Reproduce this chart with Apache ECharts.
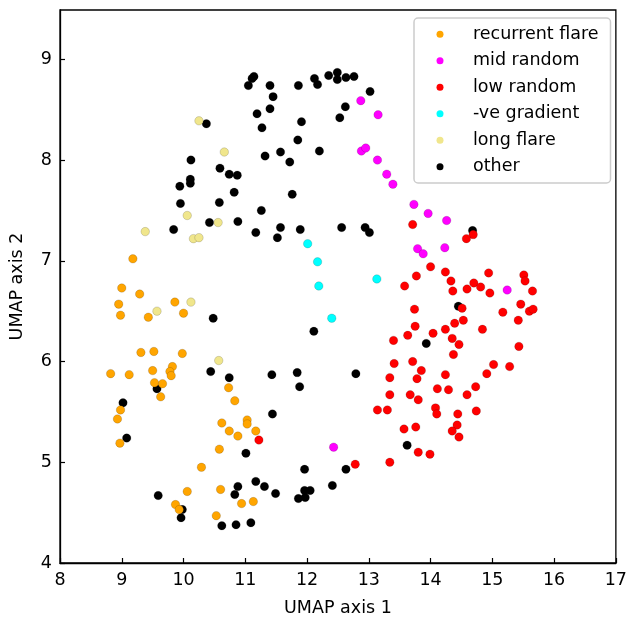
<!DOCTYPE html>
<html>
<head>
<meta charset="utf-8">
<script src="https://cdn.jsdelivr.net/npm/echarts@6/dist/echarts.min.js"></script>
<style>html,body{margin:0;padding:0;background:#fff}#c{width:630px;height:622px}</style>
</head>
<body>
<div id="c"></div>
<script>
const legendNames = ['recurrent flare','mid random','low random','-ve gradient','long flare','other'];
const xTicks = [8,9,10,11,12,13,14,15,16,17];
const yTicks = [4,5,6,7,8,9];

const recurrentFlare = [
[9.18,7.02],[9.00,6.73],[9.29,6.67],[8.95,6.57],[9.86,6.59],[8.98,6.46],[9.43,6.44],[10.00,6.48],
[9.31,6.09],[9.52,6.10],[9.98,6.08],[8.82,5.88],[9.12,5.87],[9.50,5.91],[9.82,5.95],[9.78,5.90],
[9.80,5.86],[9.53,5.79],[9.66,5.78],[10.73,5.74],[9.63,5.65],[10.83,5.61],[8.98,5.52],[8.93,5.43],
[10.62,5.39],[11.03,5.42],[11.03,5.38],[10.74,5.31],[10.88,5.26],[11.17,5.31],[8.97,5.19],[10.58,5.13],
[10.29,4.95],[10.60,4.73],[10.06,4.71],[9.87,4.58],[9.93,4.53],[10.94,4.59],[11.13,4.61],[10.53,4.47]
];
const midRandom = [
[12.87,8.59],[13.15,8.45],[12.88,8.09],[12.95,8.12],[13.14,8.00],[13.29,7.86],[13.39,7.76],[13.73,7.56],
[13.96,7.47],[14.26,7.40],[13.79,7.12],[13.88,7.07],[14.23,7.13],[15.24,6.71],[12.43,5.15]
];
const lowRandom = [
[13.71,7.36],[14.69,7.26],[14.58,7.22],[14.00,6.94],[14.24,6.89],[13.77,6.85],[13.58,6.75],[14.33,6.80],
[14.94,6.88],[14.70,6.78],[14.81,6.74],[14.59,6.72],[14.36,6.70],[14.96,6.68],[15.51,6.86],[15.53,6.80],
[15.65,6.70],[15.46,6.57],[15.60,6.50],[15.66,6.52],[15.17,6.49],[15.42,6.41],[14.51,6.53],[14.53,6.41],
[14.39,6.38],[14.24,6.32],[14.84,6.32],[14.04,6.28],[13.74,6.52],[13.75,6.35],[13.63,6.26],[13.40,6.21],
[14.35,6.23],[14.46,6.17],[14.37,6.07],[15.43,6.15],[13.41,5.98],[13.71,6.00],[13.85,5.91],[13.34,5.84],
[13.78,5.83],[15.02,5.97],[15.28,5.95],[14.91,5.88],[14.24,5.87],[13.34,5.67],[13.67,5.67],[13.80,5.62],
[13.14,5.52],[13.30,5.52],[14.11,5.73],[14.29,5.72],[14.73,5.75],[14.59,5.67],[14.08,5.54],[14.10,5.48],
[14.44,5.48],[14.74,5.51],[14.43,5.37],[14.35,5.31],[14.46,5.25],[13.57,5.33],[13.76,5.35],[13.80,5.10],
[13.99,5.08],[13.34,5.00],[12.78,4.98],[11.22,5.22]
];
const negGradient = [
[12.01,7.17],[12.17,6.99],[12.19,6.75],[13.13,6.82],[12.40,6.43]
];
const longFlare = [
[10.25,8.39],[10.66,8.08],[10.06,7.45],[10.56,7.38],[9.38,7.29],[10.16,7.22],[10.25,7.23],[10.12,6.59],
[9.57,6.50],[10.57,6.01]
];
const other = [
[11.05,8.74],[11.11,8.81],[11.14,8.83],[11.40,8.74],[11.45,8.63],[11.40,8.51],[11.19,8.46],[11.27,8.32],
[11.86,8.74],[12.12,8.81],[12.17,8.75],[12.35,8.84],[12.49,8.87],[12.49,8.80],[12.63,8.82],[12.76,8.83],
[13.02,8.68],[12.62,8.53],[12.53,8.42],[11.91,8.38],[11.85,8.20],[12.20,8.09],[11.57,8.08],[11.32,8.04],
[11.72,7.98],[10.37,8.36],[10.12,8.00],[10.59,7.92],[10.74,7.86],[10.87,7.85],[10.11,7.81],[10.11,7.77],
[9.94,7.74],[10.82,7.68],[11.76,7.66],[9.95,7.57],[10.58,7.58],[11.26,7.50],[10.42,7.38],[10.88,7.39],
[9.84,7.31],[11.57,7.33],[11.89,7.31],[11.17,7.28],[11.52,7.23],[12.56,7.33],[12.94,7.33],[13.01,7.28],
[14.68,7.30],[12.11,6.30],[13.93,6.18],[14.45,6.55],[13.62,5.17],[10.48,6.43],[10.44,5.90],[10.74,5.84],
[9.57,5.73],[9.02,5.59],[9.08,5.24],[11.01,5.09],[10.88,4.76],[10.83,4.68],[9.59,4.67],[9.98,4.53],
[9.96,4.45],[10.62,4.37],[10.85,4.38],[11.09,4.40],[11.43,5.87],[11.84,5.89],[12.79,5.88],[11.88,5.75],
[11.44,5.48],[11.96,4.93],[12.63,4.93],[12.41,4.77],[11.17,4.81],[11.31,4.76],[11.49,4.69],[11.96,4.72],
[12.05,4.72],[11.86,4.64],[11.97,4.65]
];

const seriesDefs = [
  {name:'other', data:other, color:'#000000'},
  {name:'long flare', data:longFlare, color:'#F0E68C'},
  {name:'recurrent flare', data:recurrentFlare, color:'#FFA500'},
  {name:'-ve gradient', data:negGradient, color:'#00FFFF'},
  {name:'mid random', data:midRandom, color:'#FF00FF'},
  {name:'low random', data:lowRandom, color:'#FF0000'}
];

const FONT = 'DejaVu Sans';
const chart = echarts.init(document.getElementById('c'), null, {renderer:'canvas'});
chart.setOption({
  animation:false,
  backgroundColor:'#fff',
  grid:{left:60, right:11.2, top:10, bottom:58.2, show:true, borderColor:'#000', borderWidth:1.3, backgroundColor:'transparent'},
  xAxis:{
    type:'value', min:xTicks[0], max:xTicks[xTicks.length-1], interval:1,
    name:'UMAP axis 1', nameLocation:'middle', nameGap:36,
    nameTextStyle:{fontFamily:FONT, fontSize:17.5, color:'#000'},
    axisLine:{show:true, onZero:false, lineStyle:{color:'#000', width:1.3}},
    axisTick:{show:true, inside:true, length:5, lineStyle:{color:'#000', width:1.2}},
    axisLabel:{fontFamily:FONT, fontSize:17.5, color:'#000', margin:8},
    splitLine:{show:false}
  },
  yAxis:{
    type:'value', min:yTicks[0], max:9.49, interval:1,
    name:'UMAP axis 2', nameLocation:'middle', nameGap:34, nameRotate:90,
    nameTextStyle:{fontFamily:FONT, fontSize:17.5, color:'#000'},
    axisLine:{show:true, onZero:false, lineStyle:{color:'#000', width:1.3}},
    axisTick:{show:true, inside:true, length:5, lineStyle:{color:'#000', width:1.2}},
    axisLabel:{fontFamily:FONT, fontSize:17.5, color:'#000', margin:8, showMaxLabel:false,
      formatter:function(v){return yTicks.indexOf(v)>=0 ? String(v) : '';}},
    splitLine:{show:false}
  },
  graphic:[{
    type:'rect', z:3, silent:true,
    shape:{x:414, y:18, width:196.5, height:165, r:4},
    style:{fill:'rgba(255,255,255,0.85)', stroke:'#cccccc', lineWidth:1.5}
  }],
  legend:{
    data:legendNames, orient:'vertical', left:436.5, top:24.3, z:5,
    itemWidth:7, itemHeight:7, itemGap:6.5,
    padding:0,
    itemStyle:{borderWidth:0},
    textStyle:{fontFamily:FONT, fontSize:17.5, color:'#000', lineHeight:20, padding:[0,0,0,24.5]},
    icon:'circle'
  },
  series: seriesDefs.map(s => ({
    type:'scatter', name:s.name, data:s.data, symbol:'circle', symbolSize:8.5,
    itemStyle:{color:s.color, borderColor:'rgba(0,0,0,0.25)', borderWidth:0.6, opacity:1},
    emphasis:{disabled:true}
  }))
});
</script>
</body>
</html>
